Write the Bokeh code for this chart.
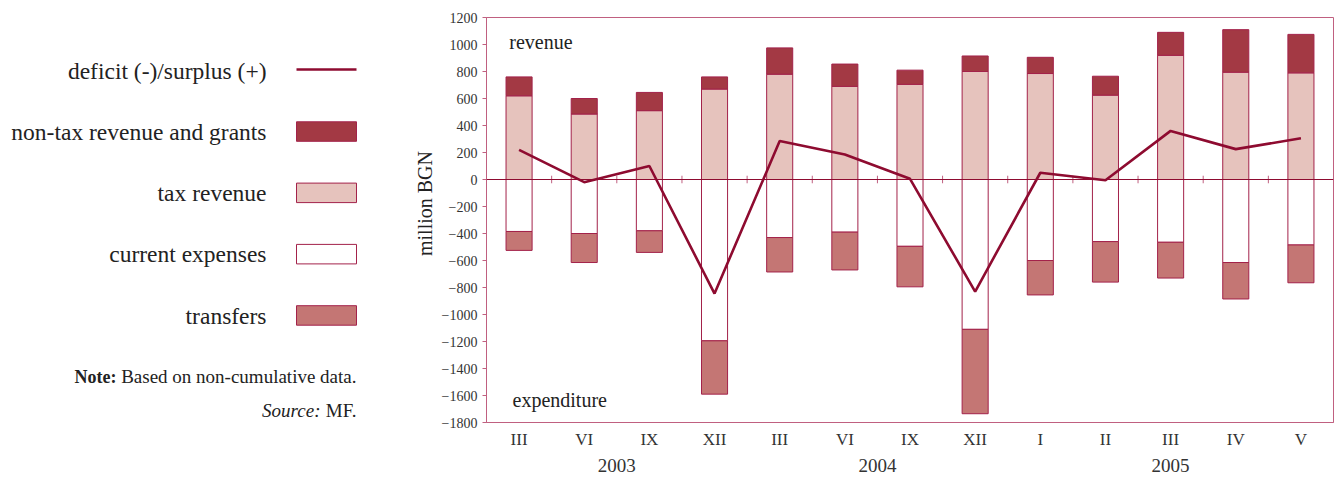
import numpy as np
from bokeh.plotting import figure
from bokeh.models import FactorRange, Range1d, FixedTicker, Span, Label, ColumnDataSource
from bokeh.layouts import row
from bokeh.embed import file_html
from bokeh.resources import INLINE
from bokeh.core.properties import value

# ---------------- data ----------------
years = ["2003"] * 4 + ["2004"] * 4 + ["2005"] * 5
months = ["III", "VI", "IX", "XII", "III", "VI", "IX", "XII", "I", "II", "III", "IV", "V"]
tax_revenue = [620, 485, 510, 670, 780, 690, 705, 800, 785, 625, 920, 795, 790]
nontax_revenue = [140, 115, 135, 90, 195, 165, 105, 115, 120, 140, 170, 315, 285]
current_expenses = [-385, -400, -380, -1195, -430, -390, -495, -1110, -600, -460, -465, -615, -485]
transfers = [-140, -215, -160, -395, -255, -280, -300, -625, -255, -300, -265, -270, -280]
balance = [220, -20, 100, -845, 285, 185, 5, -830, 50, -5, 360, 225, 305]
y_ticks = list(range(-1800, 1201, 200))
legend_labels = ["deficit (-)/surplus (+)", "non-tax revenue and grants", "tax revenue",
                 "current expenses", "transfers"]

# ---------------- styles ----------------
FONT = "Liberation Serif"
C_LINE = "#8e0b30"
C_NONTAX = "#a33944"
C_TAX = "#e6c3bd"
C_CUR = "#ffffff"
C_TRANS = "#c47674"
C_EDGE = "#a3224a"
C_AXIS = "#c06080"
C_TEXT = "#222222"

TOP = 17          # frame top (px)
BOTTOM = 422      # frame bottom (px)
AX_H = 53         # space for the category axis
H = BOTTOM + AX_H
LEFT_W = 438

factors = list(zip(years, months))
tax = np.array(tax_revenue)
nontax = np.array(nontax_revenue)
cur = np.array(current_expenses)
trn = np.array(transfers)

src = ColumnDataSource(dict(
    x=factors,
    zero=[0] * len(factors),
    tax=tax,
    rev_top=tax + nontax,
    cur=cur,
    exp_bottom=cur + trn,
    bal=balance,
))

x_range = FactorRange(*factors, range_padding=0, factor_padding=0, group_padding=0, subgroup_padding=0)
p = figure(x_range=x_range, y_range=Range1d(-1800, 1200), width=45 + 850 + 7, height=H,
           output_backend="svg", toolbar_location=None, title=None,
           min_border_left=45, min_border_right=7, min_border_top=TOP, min_border_bottom=AX_H)
p.xgrid.grid_line_color = None
p.ygrid.grid_line_color = None
p.outline_line_color = C_AXIS
p.outline_line_width = 1
p.background_fill_color = "white"

# bars
p.vbar(x="x", width=0.4, bottom="zero", top="tax", source=src, fill_color=C_TAX, line_color=C_EDGE, line_width=1)
p.vbar(x="x", width=0.4, bottom="tax", top="rev_top", source=src, fill_color=C_NONTAX, line_color=C_EDGE, line_width=1)
p.vbar(x="x", width=0.4, bottom="cur", top="zero", source=src, fill_color=C_CUR, line_color=C_EDGE, line_width=1)
p.vbar(x="x", width=0.4, bottom="exp_bottom", top="cur", source=src, fill_color=C_TRANS, line_color=C_EDGE, line_width=1)

# zero line with category boundary ticks
p.add_layout(Span(location=0, dimension="width", line_color=C_LINE, line_width=1))
bounds = list(range(len(factors) + 1))
p.segment(x0=bounds, y0=[-28] * len(bounds), x1=bounds, y1=[28] * len(bounds), line_color=C_AXIS, line_width=1)

# balance line
p.line(x="x", y="bal", source=src, line_color=C_LINE, line_width=2.6)

p.add_layout(Label(x=0.35, y=1020, text="revenue", text_baseline="middle", text_font=FONT,
                   text_font_size="20px", text_color=C_TEXT))
p.add_layout(Label(x=0.4, y=-1635, text="expenditure", text_baseline="middle", text_font=FONT,
                   text_font_size="20px", text_color=C_TEXT))

ya = p.yaxis[0]
ya.ticker = FixedTicker(ticks=y_ticks, minor_ticks=[])
ya.major_tick_out = 4
ya.major_tick_in = 0
ya.minor_tick_line_color = None
ya.major_tick_line_color = C_AXIS
ya.axis_line_color = C_AXIS
ya.major_label_text_font = FONT
ya.major_label_text_font_size = "14px"
ya.major_label_text_color = "#333333"
ya.major_label_standoff = 5

xa = p.xaxis[0]
xa.major_tick_line_color = None
xa.major_tick_out = 0
xa.major_tick_in = 0
xa.axis_line_color = C_AXIS
xa.major_label_text_font = FONT
xa.major_label_text_font_size = "17px"
xa.major_label_text_color = "#333333"
xa.major_label_standoff = 7
xa.group_text_font = FONT
xa.group_text_font_size = "19px"
xa.group_text_color = "#333333"
xa.group_text_font_style = "normal"
xa.separator_line_color = None

# ---------------- left panel: legend & notes (coordinates = page pixels) ----------------
lf = figure(width=LEFT_W, height=H, x_range=Range1d(0, LEFT_W), y_range=Range1d(BOTTOM, TOP),
            output_backend="svg", toolbar_location=None, title=None,
            x_axis_type=None, y_axis_type=None,
            min_border_left=0, min_border_right=0, min_border_top=TOP, min_border_bottom=AX_H)
lf.grid.grid_line_color = None
lf.outline_line_color = None

ys = [70 + i * 61.3 for i in range(len(legend_labels))]
lf.text(x=[266] * len(ys), y=ys, text=legend_labels, text_align="right", text_baseline="middle",
        text_font=value(FONT), text_font_size="23.5px", text_color=C_TEXT)
lf.line(x=[296, 356], y=[ys[0] - 1, ys[0] - 1], line_color=C_LINE, line_width=2.6)
sw_fill = [C_NONTAX, C_TAX, C_CUR, C_TRANS]
lf.quad(left=[296] * 4, right=[356] * 4,
        top=[y - 10 for y in ys[1:]], bottom=[y + 9.5 for y in ys[1:]],
        fill_color=sw_fill, line_color=C_EDGE, line_width=1)

lf.text(x=[116], y=[376], text=["Note:"], text_align="right", text_baseline="middle",
        text_font=value(FONT), text_font_size="18px", text_font_style="bold", text_color=C_TEXT)
lf.text(x=[356], y=[376], text=["Based on non-cumulative data."], text_align="right", text_baseline="middle",
        text_font=value(FONT), text_font_size="19px", text_color=C_TEXT)
lf.text(x=[320], y=[410], text=["Source:"], text_align="right", text_baseline="middle",
        text_font=value(FONT), text_font_size="19px", text_font_style="italic", text_color=C_TEXT)
lf.text(x=[356], y=[410], text=["MF."], text_align="right", text_baseline="middle",
        text_font=value(FONT), text_font_size="19px", text_color=C_TEXT)
lf.text(x=[424], y=[203], text=["million BGN"], angle=np.pi / 2, text_align="center", text_baseline="middle",
        text_font=value(FONT), text_font_size="20px", text_color=C_TEXT)

layout = row(lf, p)
open("out.html", "w").write(file_html(layout, INLINE))
